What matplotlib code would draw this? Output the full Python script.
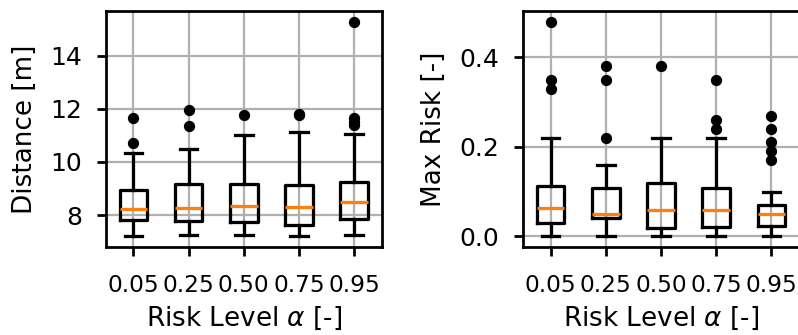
import matplotlib.pyplot as plt
import numpy as np

levels = ["0.05", "0.25", "0.50", "0.75", "0.95"]

# distance [m] box stats
dist_lo = [7.22, 7.26, 7.26, 7.21, 7.25]
dist_q1 = [7.81, 7.77, 7.75, 7.62, 7.86]
dist_med = [8.25, 8.29, 8.36, 8.32, 8.49]
dist_q3 = [8.94, 9.16, 9.19, 9.14, 9.24]
dist_hi = [10.35, 10.47, 11.02, 11.14, 11.05]
dist_fly = [[10.7, 11.64], [11.37, 11.94], [11.77], [11.75, 11.8],
            [11.4, 11.52, 11.64, 15.27]]

# max risk [-]
risk_lo = [0.0, 0.0, 0.0, 0.0, 0.0]
risk_q1 = [0.029, 0.040, 0.019, 0.020, 0.022]
risk_med = [0.064, 0.050, 0.059, 0.059, 0.050]
risk_q3 = [0.113, 0.109, 0.120, 0.107, 0.070]
risk_hi = [0.220, 0.160, 0.220, 0.220, 0.099]
risk_fly = [[0.33, 0.35, 0.48], [0.22, 0.35, 0.38], [0.38], [0.24, 0.26, 0.35],
            [0.17, 0.19, 0.21, 0.24, 0.27]]


def make_stats(lo, q1, med, q3, hi, fly):
    stats = []
    for i in range(len(levels)):
        stats.append(dict(whislo=lo[i], q1=q1[i], med=med[i], q3=q3[i],
                          whishi=hi[i], fliers=fly[i], label=levels[i]))
    return stats


fig = plt.figure(figsize=(798 / 180, 335 / 180), dpi=180)
ax1 = fig.add_axes([0.1325, 0.2627, 0.3459, 0.7045])
ax2 = fig.add_axes([0.6554, 0.2627, 0.3459, 0.7045])

lw = 1.3
flier = dict(marker="o", markerfacecolor="black", markeredgecolor="black",
             markersize=3.5)
median = dict(color="#ff7f0e", linewidth=lw)
line = dict(linewidth=lw)

for ax, st in ((ax1, make_stats(dist_lo, dist_q1, dist_med, dist_q3, dist_hi, dist_fly)),
               (ax2, make_stats(risk_lo, risk_q1, risk_med, risk_q3, risk_hi, risk_fly))):
    ax.bxp(st, flierprops=flier, medianprops=median, boxprops=line,
           whiskerprops=line, capprops=line, capwidths=0.32)

ax1.set_yticks([8, 10, 12, 14])
ax2.set_yticks([0.0, 0.2, 0.4])
ax1.set_ylabel("Distance [m]", fontsize=10.5, labelpad=5)
ax2.set_ylabel("Max Risk [-]", fontsize=10.5, labelpad=5)
for ax in (ax1, ax2):
    ax.set_xlabel(r"Risk Level $\alpha$ [-]", fontsize=10.5, labelpad=3)
    ax.tick_params(axis="x", labelsize=9.3, pad=7.5, width=1.1)
    ax.tick_params(axis="y", labelsize=10, pad=6, width=1.1)
    for s in ax.spines.values():
        s.set_linewidth(1.1)
    ax.grid(True, linewidth=0.9)

fig.savefig("out.png", dpi=180)
